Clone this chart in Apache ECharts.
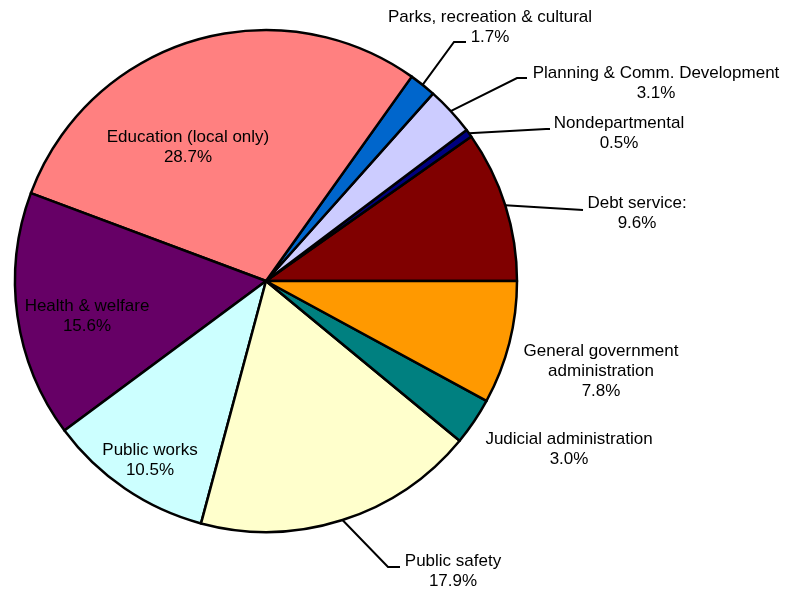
<!DOCTYPE html>
<html>
<head>
<meta charset="utf-8">
<style>
  html, body { margin: 0; padding: 0; background: #ffffff; }
  #chart { width: 788px; height: 592px; }
</style>
<script src="https://cdn.jsdelivr.net/npm/echarts@6/dist/echarts.min.js"></script>
</head>
<body>
<div id="chart"></div>
<script>
// Spending categories, counter-clockwise from 3 o'clock
const categories = [
  'Debt service:',
  'Nondepartmental',
  'Planning & Comm. Development',
  'Parks, recreation & cultural',
  'Education (local only)',
  'Health & welfare',
  'Public works',
  'Public safety',
  'Judicial administration',
  'General government\nadministration'
];
// Share of the budget, percent
const shares = [9.6, 0.5, 3.1, 1.7, 28.7, 15.6, 10.5, 17.9, 3.0, 7.8];
const sliceColors = [
  '#800000', '#000080', '#CCCCFF', '#0066CC', '#FF8080',
  '#660066', '#CCFFFF', '#FFFFCC', '#008080', '#FF9900'
];
// Which labels sit inside their slice
const insideLabel = [false, false, false, false, true, true, true, false, false, false];
// Labels drawn without a leader line
const noLeader = [false, false, false, false, true, true, true, false, true, true];

// Label placement: text centre and leader elbow / end
const labelPlaces = [
  { x: 637, y: 213, elbow: [583, 210], end: [583, 210] },
  { x: 619, y: 133, elbow: [546, 129], end: [550, 129] },
  { x: 656, y: 83,  elbow: [517, 78],  end: [527, 78] },
  { x: 490, y: 27,  elbow: [454, 42],  end: [466, 42] },
  { x: 188, y: 147 },
  { x: 87,  y: 316 },
  { x: 150, y: 460 },
  { x: 453, y: 571, elbow: [388, 567], end: [400, 567] },
  { x: 569, y: 449 },
  { x: 601, y: 371 }
];

const data = categories.map((name, i) => ({
  name: name,
  value: shares[i],
  itemStyle: { color: sliceColors[i] },
  label: { position: insideLabel[i] ? 'inside' : 'outside' },
  labelLine: { show: !noLeader[i] }
}));

const chart = echarts.init(document.getElementById('chart'), null, { renderer: 'canvas' });
chart.setOption({
  backgroundColor: '#ffffff',
  animation: false,
  series: [{
    type: 'pie',
    center: [266, 281],
    radius: 251,
    startAngle: 0,
    clockwise: false,
    avoidLabelOverlap: false,
    data: data,
    itemStyle: { borderColor: '#000000', borderWidth: 2.5 },
    label: {
      show: true,
      fontFamily: 'Liberation Sans, Arial, sans-serif',
      fontSize: 17,
      lineHeight: 20,
      color: '#000000',
      align: 'center',
      formatter: p => p.name + '\n' + p.value.toFixed(1) + '%'
    },
    labelLine: {
      show: true,
      length: 20,
      length2: 10,
      lineStyle: { color: '#000000', width: 2 }
    },
    emphasis: { disabled: true },
    labelLayout: function (p) {
      const place = labelPlaces[p.dataIndex];
      const out = { x: place.x, y: place.y, align: 'center', verticalAlign: 'middle' };
      if (place.elbow && p.labelLinePoints) {
        out.labelLinePoints = [p.labelLinePoints[0], place.elbow, place.end];
      }
      return out;
    }
  }]
});
</script>
</body>
</html>
